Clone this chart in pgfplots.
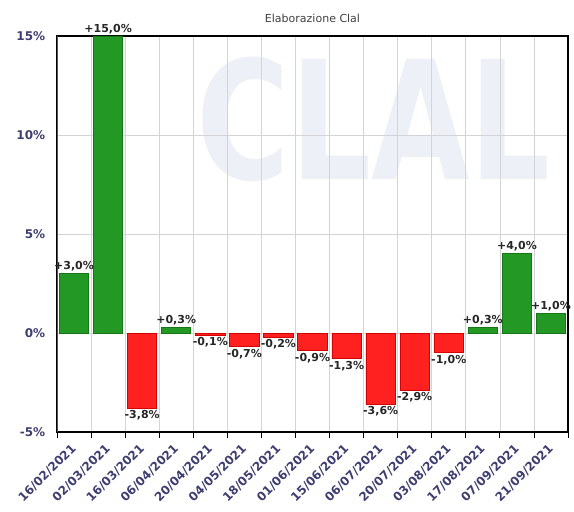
\documentclass[border=0pt]{standalone}
\usepackage{pgfplots}
\pgfplotsset{compat=1.18}
\usepackage{fontspec}
\setmainfont{DejaVu Sans}
\definecolor{barg}{RGB}{36,152,36}
\definecolor{bargd}{RGB}{20,118,20}
\definecolor{barr}{RGB}{255,32,32}
\definecolor{barrd}{RGB}{215,0,0}
\definecolor{ticktxt}{RGB}{62,62,112}
\definecolor{gridc}{RGB}{212,212,216}
\definecolor{leftax}{RGB}{50,80,160}
\definecolor{wmark}{RGB}{238,240,248}

\begin{document}
\begin{tikzpicture}
\begin{axis}[
  name=ax,
  set layers,
  scale only axis,
  width=511pt, height=396pt,
  ybar, bar width=0.86, bar shift=0pt,
  xmin=-0.5, xmax=14.5,
  ymin=-5, ymax=15,
  xtick={0,...,14},
  xticklabels={16/02/2021,02/03/2021,16/03/2021,06/04/2021,20/04/2021,04/05/2021,18/05/2021,01/06/2021,15/06/2021,06/07/2021,20/07/2021,03/08/2021,17/08/2021,07/09/2021,21/09/2021},
  minor xtick={-0.5,0.5,...,14.5},
  ytick={-5,0,5,10,15},
  yticklabels={-5\%,0\%,5\%,10\%,15\%},
  xtick pos=left,
  tick align=outside,
  major x tick style={draw=none},
  ytick style={draw=none},
  minor tick length=6pt,
  minor x tick style={draw=black, line width=0.8pt},
  xminorgrids=true, ymajorgrids=true,
  grid style={gridc, line width=0.7pt},
  axis line style={black, line width=1.6pt},
  ticklabel style={font=\fontsize{12}{14}\selectfont\bfseries, text=ticktxt},
  xticklabel style={rotate=45, anchor=north east, inner sep=2pt, xshift=-5pt},
  yticklabel style={xshift=-4pt},
  title={Elaborazione Clal},
  title style={font=\fontsize{11}{12}\selectfont, text=black!75, yshift=4pt},
  point meta=explicit symbolic,
  nodes near coords,
  every node near coord/.append style={font=\fontsize{11}{12}\selectfont\bfseries, text=black!85, inner sep=2pt},
]
\begin{pgfonlayer}{axis background}
\node[text=wmark, font=\fontsize{150}{150}\selectfont\bfseries, xscale=0.85, yscale=1.1] at (rel axis cs:0.62,0.79) {CLAL};
\end{pgfonlayer}

\addplot[fill=barg, draw=bargd, line width=0.8pt,
  every node near coord/.append style={anchor=south}] coordinates {
  (0,3.0) [+3,0\%]
  (1,15.0) [+15,0\%]
  (3,0.3) [+0,3\%]
  (12,0.3) [+0,3\%]
  (13,4.0) [+4,0\%]
  (14,1.0) [+1,0\%]
};
\addplot[fill=barr, draw=barrd, line width=0.8pt,
  every node near coord/.append style={anchor=north}] coordinates {
  (2,-3.8) [-3,8\%]
  (4,-0.1) [-0,1\%]
  (5,-0.7) [-0,7\%]
  (6,-0.2) [-0,2\%]
  (7,-0.9) [-0,9\%]
  (8,-1.3) [-1,3\%]
  (9,-3.6) [-3,6\%]
  (10,-2.9) [-2,9\%]
  (11,-1.0) [-1,0\%]
};
\draw[black, line width=2.6pt] (rel axis cs:1,0) -- (rel axis cs:1,1);
\draw[leftax, line width=1.8pt] (rel axis cs:0,0) -- (rel axis cs:0,1);
\end{axis}
\path ([shift={(-57pt,-79pt)}]ax.south west) rectangle ([shift={(6pt,36pt)}]ax.north east);
\end{tikzpicture}
\end{document}
